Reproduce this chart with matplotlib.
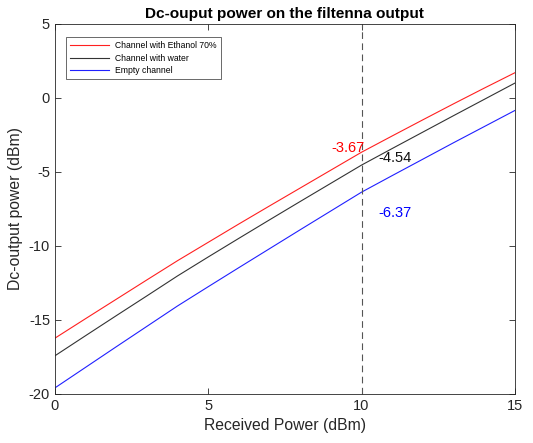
import numpy as np
import matplotlib.pyplot as plt

plt.rcParams['font.family'] = ['Liberation Sans', 'DejaVu Sans']
plt.rcParams['axes.unicode_minus'] = False

# received power (dBm)
p_in = np.arange(0, 16)

# dc output power (dBm)
dc_ethanol = [-16.24, -14.92, -13.61, -12.30, -11.00, -9.76, -8.52, -7.30,
              -6.09, -4.88, -3.67, -2.57, -1.48, -0.40, 0.66, 1.70]
dc_water = [-17.43, -16.07, -14.72, -13.38, -12.03, -10.75, -9.49, -8.24,
            -7.00, -5.77, -4.54, -3.42, -2.31, -1.20, -0.10, 1.00]
dc_empty = [-19.60, -18.21, -16.82, -15.44, -14.06, -12.76, -11.47, -10.19,
            -8.91, -7.64, -6.37, -5.25, -4.14, -3.03, -1.94, -0.85]

labels = ['Channel with Ethanol 70%', 'Channel with water', 'Empty channel']
marker_x = 10

fig = plt.figure(figsize=(5.33, 4.43), dpi=100)
ax = fig.add_axes([0.103, 0.111, 0.863, 0.835])

ax.plot(p_in, dc_ethanol, color='#ff2020', lw=0.8, label=labels[0])
ax.plot(p_in, dc_water, color='#333333', lw=0.8, label=labels[1])
ax.plot(p_in, dc_empty, color='#2020ff', lw=0.8, label=labels[2])
ax.axvline(marker_x, color='#555555', lw=0.8, ls=(0, (6, 4)))

ax.text(9.03, -3.38, '%.2f' % dc_ethanol[10], color='#ff0000', fontsize=10.5, va='center')
ax.text(10.56, -4.05, '%.2f' % dc_water[10], color='#111111', fontsize=10.5, va='center')
ax.text(10.56, -7.77, '%.2f' % dc_empty[10], color='#0000ff', fontsize=10.5, va='center')

ax.set_xlim(0, 15)
ax.set_ylim(-20, 5)
ax.set_xticks([0, 5, 10, 15])
ax.set_yticks([-20, -15, -10, -5, 0, 5])
ax.tick_params(direction='in', top=True, right=True, labelsize=10.5,
               colors='#262626', length=4, width=0.6)
for s in ax.spines.values():
    s.set_color('#262626')
    s.set_linewidth(0.6)

ax.set_xlabel('Received Power (dBm)', fontsize=11.3, color='#262626')
ax.set_ylabel('Dc-output power (dBm)', fontsize=11.3, color='#262626')
ax.set_title('Dc-ouput power on the filtenna output', fontsize=11.1,
             fontweight='bold', pad=4)

leg = ax.legend(loc='upper left', fontsize=6.2, fancybox=False,
                bbox_to_anchor=(0.024, 0.965), borderaxespad=0,
                handlelength=4.6, handletextpad=0.7, labelspacing=0.45,
                borderpad=0.45)
leg.get_frame().set_edgecolor('#262626')
leg.get_frame().set_linewidth(0.6)

fig.savefig('out.png', dpi=100)
